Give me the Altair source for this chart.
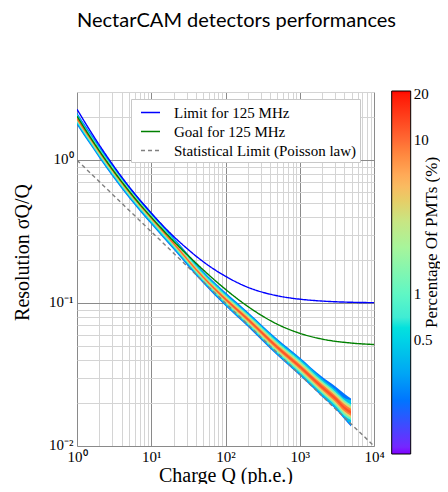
import altair as alt
import pandas as pd

# ---------------- text ----------------
title_text = "NectarCAM detectors performances"
x_title = "Charge Q (ph.e.)"
y_title = "Resolution σQ/Q"
cbar_title = "Percentage Of PMTs (%)"

# ---------------- reference curves ----------------
series_names = ["Limit for 125 MHz", "Goal for 125 MHz", "Statistical Limit (Poisson law)"]
series_colors = ["#0000ff", "#008000", "#808080"]

curve_q = [1, 1.5, 2, 3, 5, 7, 10, 20, 30, 50, 100, 200, 500, 1000, 2000, 5000, 10000]
limit_res = [2.27, 1.61, 1.276, 0.936, 0.654, 0.527, 0.426, 0.293, 0.242, 0.195,
             0.154, 0.129, 0.1125, 0.1065, 0.1033, 0.1013, 0.1007]
goal_res = [2.03, 1.455, 1.163, 0.863, 0.610, 0.493, 0.399, 0.271, 0.220, 0.171,
            0.1248, 0.0947, 0.0711, 0.0615, 0.0560, 0.0525, 0.0513]
poisson_q = [1, 10000]
poisson_res = [1.0, 0.01]

# ---------------- measured PMT distribution (2D histogram band) ----------------
band_q = [1, 1.5, 2, 3, 5, 10, 20, 50, 100, 200, 500, 1000, 2000, 3000, 4000, 4900]
# % of PMTs for each contour level (outer scatter -> core)
band_pct = [0.2, 0.4, 1.0, 3.5, 9.0, 13.0]
scatter_hi = [2.153, 1.568, 1.259, 0.938, 0.662, 0.434, 0.289, 0.1679, 0.119, 0.0868, 0.056, 0.0417, 0.0305, 0.0262, 0.0232, 0.0215]
scatter_lo = [1.766, 1.286, 1.033, 0.770, 0.544, 0.356, 0.2373, 0.1376, 0.0953, 0.0683, 0.0429, 0.0311, 0.0221, 0.0182, 0.0154, 0.0137]
outer_hi = [2.114, 1.539, 1.236, 0.921, 0.650, 0.426, 0.284, 0.1648, 0.1168, 0.0852, 0.055, 0.0409, 0.0296, 0.0250, 0.0217, 0.0210]
outer_lo = [1.799, 1.310, 1.052, 0.784, 0.554, 0.3626, 0.2417, 0.1402, 0.0971, 0.0696, 0.0437, 0.0317, 0.0225, 0.0185, 0.0157, 0.0140]
cyan_hi = [2.066, 1.504, 1.208, 0.900, 0.636, 0.416, 0.2775, 0.161, 0.1141, 0.0833, 0.0535, 0.0397, 0.0286, 0.0241, 0.0210, 0.0195]
cyan_lo = [1.841, 1.341, 1.076, 0.802, 0.566, 0.371, 0.2473, 0.1435, 0.0994, 0.0712, 0.0449, 0.0327, 0.0233, 0.0192, 0.0163, 0.0152]
yellow_hi = [2.018, 1.470, 1.180, 0.880, 0.621, 0.4068, 0.2712, 0.1573, 0.1115, 0.0814, 0.0521, 0.0386, 0.0278, 0.0234, 0.0203, 0.0189]
yellow_lo = [1.884, 1.372, 1.101, 0.821, 0.580, 0.3797, 0.2531, 0.1468, 0.1017, 0.0729, 0.0460, 0.0336, 0.0239, 0.0198, 0.0169, 0.0157]
orange_hi = [1.986, 1.446, 1.161, 0.866, 0.611, 0.4003, 0.2669, 0.1548, 0.1092, 0.0793, 0.0507, 0.0374, 0.0270, 0.0226, 0.0196, 0.0182]
orange_lo = [1.914, 1.394, 1.119, 0.834, 0.589, 0.3858, 0.2572, 0.1492, 0.1038, 0.0747, 0.0473, 0.0346, 0.0247, 0.0205, 0.0175, 0.0163]
red_hi = [1.963, 1.430, 1.148, 0.856, 0.604, 0.3957, 0.2638, 0.1530, 0.1075, 0.0779, 0.0497, 0.0366, 0.0263, 0.0220, 0.0189, 0.0176]
red_lo = [1.937, 1.410, 1.132, 0.844, 0.596, 0.3903, 0.2602, 0.1510, 0.1055, 0.0761, 0.0483, 0.0354, 0.0253, 0.0211, 0.0181, 0.0168]

# ---------------- axes ----------------
x_major = [1, 10, 100, 1000, 10000]
x_major_labels = ["10⁰", "10¹", "10²", "10³", "10⁴"]
y_major = [0.01, 0.1, 1]
y_major_labels = ["10⁻²", "10⁻¹", "10⁰"]
cbar_ticks = [0.5, 1, 10, 20]

# colour map (matplotlib "rainbow") over a log range of percentages
cmap_domain = [0.09, 0.178, 0.352, 0.697, 1.378, 2.726, 5.39, 10.66, 21.0]
cmap_colors = ["#8000ff", "#4062fa", "#00b4eb", "#40ecd4", "#80ffb4",
               "#c0ec8e", "#ffb462", "#ff6232", "#ff0000"]

x_values = [m * d for d in [1, 10, 100, 1000] for m in range(1, 10)] + [10000]
y_values = [m * d for d in [0.01, 0.1] for m in range(1, 10)] + [1, 2, 3]


def label_expr(vals, labels):
    parts = [f"datum.value == {v} ? '{l}'" for v, l in zip(vals, labels)]
    return " : ".join(parts) + " : ''"


def major_test(vals):
    return "indexof([" + ",".join(str(v) for v in vals) + "], datum.value) >= 0"


SERIF = "Liberation Serif"

x_enc_scale = alt.Scale(type="log", domain=[1, 10000], nice=False)
y_enc_scale = alt.Scale(type="log", domain=[0.01, 3], nice=False)

x_axis = alt.Axis(
    title=x_title, values=x_values, labelExpr=label_expr(x_major, x_major_labels),
    labelOverlap=False, labelFlush=False, ticks=False, domain=False,
    gridColor={"condition": {"test": major_test(x_major), "value": "#8a8a8a"}, "value": "#d4d4d4"},
    labelFont=SERIF, labelFontSize=15, labelColor="black", labelPadding=3,
    titleFont=SERIF, titleFontSize=20, titleFontWeight="normal", titleColor="black",
    titleBaseline="alphabetic", titleY=35, titleX=148.5, titleAlign="center",
)
y_axis = alt.Axis(
    title=y_title, values=y_values, labelExpr=label_expr(y_major, y_major_labels),
    labelOverlap=False, labelFlush=False, ticks=False, domain=False,
    gridColor={"condition": {"test": major_test(y_major), "value": "#8a8a8a"}, "value": "#d4d4d4"},
    labelFont=SERIF, labelFontSize=15, labelColor="black", labelPadding=4, labelOffset=-2,
    titleFont=SERIF, titleFontSize=20, titleFontWeight="normal", titleColor="black",
    titleAngle=270, titleBaseline="alphabetic", titleX=-49, titleY=160, titleAlign="center",
)
# right-hand axis used only to carry the colour-bar title
cbar_axis = alt.Axis(
    orient="right", title=cbar_title, labels=False, ticks=False, domain=False, grid=False,
    titleFont=SERIF, titleFontSize=17, titleFontWeight="normal", titleColor="black",
    titleAngle=270, titleBaseline="alphabetic", titleX=62, titleY=150, titleAlign="center",
)

# ---------------- data frames ----------------
levels = [(band_pct[0], scatter_lo, scatter_hi), (band_pct[1], outer_lo, outer_hi),
          (band_pct[2], cyan_lo, cyan_hi), (band_pct[3], yellow_lo, yellow_hi),
          (band_pct[4], orange_lo, orange_hi), (band_pct[5], red_lo, red_hi)]

band_rows = []
for pct, lo, hi in levels:
    for q, a, b in zip(band_q, lo, hi):
        band_rows.append({"Q": q, "lo": a, "hi": b, "pct": pct})
band_df = pd.DataFrame(band_rows)

line_rows = []
for q, v in zip(curve_q, limit_res):
    line_rows.append({"Q": q, "res": v, "series": series_names[0]})
for q, v in zip(curve_q, goal_res):
    line_rows.append({"Q": q, "res": v, "series": series_names[1]})
for q, v in zip(poisson_q, poisson_res):
    line_rows.append({"Q": q, "res": v, "series": series_names[2]})
line_df = pd.DataFrame(line_rows)

pct_scale = alt.Scale(type="log", domain=cmap_domain, range=cmap_colors)
pct_legend = alt.Legend(
    orient="none", legendX=314.7, legendY=-1, direction="vertical", type="gradient",
    gradientLength=363, gradientThickness=19, gradientStrokeColor="black", gradientStrokeWidth=1,
    values=cbar_ticks, format="~g", labelOverlap=False,
    labelFont=SERIF, labelFontSize=15, labelColor="black", labelOffset=3, title=None,
)

band_layers = []
for pct, _, _ in levels:
    band_layers.append(
        alt.Chart(band_df).transform_filter(alt.datum.pct == pct)
        .mark_area(interpolate="monotone", clip=True)
        .encode(
            x=alt.X("Q:Q", scale=x_enc_scale, axis=x_axis),
            y=alt.Y("lo:Q", scale=y_enc_scale, axis=y_axis, stack=None),
            y2="hi:Q",
            color=alt.Color("pct:Q", scale=pct_scale, legend=pct_legend),
        )
    )

line_legend = alt.Legend(
    orient="none", legendX=54, legendY=7, title=None, symbolType="stroke",
    symbolSize=361, symbolStrokeWidth=1.5, symbolOffset=6, labelOffset=13,
    labelFont=SERIF, labelFontSize=15, labelColor="black", labelLimit=400,
    fillColor="white", strokeColor="#c8c8c8", padding=3, rowPadding=0,
)

lines_layer = alt.Chart(line_df).mark_line(interpolate="monotone", clip=True, strokeWidth=1.4).encode(
    x=alt.X("Q:Q", scale=x_enc_scale),
    y=alt.Y("res:Q", scale=y_enc_scale, axis=None),
    color=alt.Color("series:N", scale=alt.Scale(domain=series_names, range=series_colors), legend=line_legend),
    strokeDash=alt.StrokeDash("series:N", scale=alt.Scale(domain=series_names, range=[[1, 0], [1, 0], [4, 3]]), legend=line_legend),
)

# invisible layer that carries the right-hand colour-bar title
cbar_title_layer = alt.Chart(line_df).mark_line(opacity=0).encode(
    x=alt.X("Q:Q", scale=x_enc_scale),
    y=alt.Y("res:Q", scale=y_enc_scale, axis=cbar_axis),
)

bands = alt.layer(*band_layers)

chart = (
    alt.layer(bands, lines_layer, cbar_title_layer)
    .resolve_scale(color="independent", strokeDash="independent", y="independent")
    .properties(
        width=297, height=354,
        autosize=alt.AutoSizeParams(type="none"),
        padding={"left": 69, "top": 84, "right": 66, "bottom": 38},
        title=alt.TitleParams(title_text, font="Lato", fontSize=20, fontWeight="normal",
                              color="black", anchor="middle", frame="group", dx=11, offset=52),
    )
    .configure_view(stroke="black", strokeWidth=1)
    .configure(background="white")
)

chart.save("out.html", embed_options={"renderer": "svg", "actions": False})
